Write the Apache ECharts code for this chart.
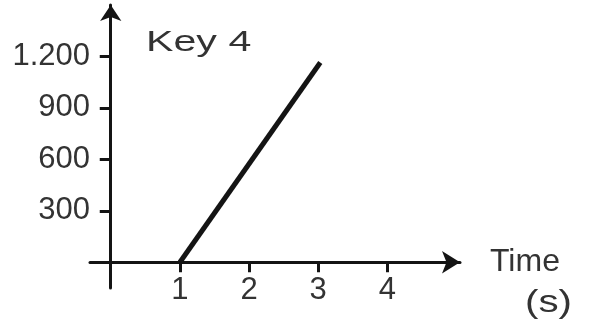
<!DOCTYPE html>
<html>
<head>
<meta charset="utf-8">
<script src="https://cdn.jsdelivr.net/npm/echarts@6/dist/echarts.min.js"></script>
<style>
html,body{margin:0;padding:0;background:#fff;}
#chart{width:589px;height:322px;}
</style>
</head>
<body>
<div id="chart"></div>
<script>
// Data
const lineX = [1, 3.03];
const lineY = [0, 1165];
const xTicks = [1, 2, 3, 4];
const yTicks = [300, 600, 900, 1200];
const xAxisName = 'Time';
const xAxisUnit = '(s)';
const keyLabel = 'Key 4';

const FONT = '"Liberation Sans", Arial, Helvetica, sans-serif';
const AXIS = '#141414';
const TEXT = '#333333';

const fmtY = v => {
  const s = String(Math.round(v));
  return s.replace(/\B(?=(\d{3})+(?!\d))/g, '.');
};

const xBase = {
  type: 'value', min: -0.3, max: 5.05,
  splitLine: {show: false}
};
const yBase = {
  type: 'value', min: -150, max: 1500,
  splitLine: {show: false}
};

const chart = echarts.init(document.getElementById('chart'), null, {renderer: 'canvas'});
chart.setOption({
  animation: false,
  backgroundColor: '#ffffff',
  grid: {left: 90, right: 129, top: 5, bottom: 34, containLabel: false, outerBoundsMode: 'none'},
  xAxis: [
    Object.assign({}, xBase, {
      axisLine: {show: true, onZero: true, onZeroAxisIndex: 0,
        symbol: ['none', 'arrow'], symbolSize: [17, 18],
        lineStyle: {color: AXIS, width: 3}},
      axisTick: {show: true, inside: false, length: 10, customValues: xTicks,
        lineStyle: {color: AXIS, width: 3}},
      axisLabel: {show: true, customValues: xTicks, margin: -13,
        fontSize: 31, fontFamily: FONT, color: TEXT},
      name: xAxisName, nameLocation: 'end', nameGap: 30,
      nameTextStyle: {fontSize: 32, fontFamily: FONT, color: TEXT, align: 'left', verticalAlign: 'middle'}
    }),
    Object.assign({}, xBase, {
      axisLine: {show: false, onZero: true, onZeroAxisIndex: 0},
      axisTick: {show: true, inside: true, length: 10, customValues: xTicks,
        lineStyle: {color: AXIS, width: 3}},
      axisLabel: {show: false}
    })
  ],
  yAxis: [
    Object.assign({}, yBase, {
      axisLine: {show: true, onZero: true, onZeroAxisIndex: 0,
        symbol: ['none', 'arrow'], symbolSize: [16, 16],
        lineStyle: {color: AXIS, width: 3}},
      axisTick: {show: true, inside: false, length: 11, customValues: yTicks,
        lineStyle: {color: AXIS, width: 3}},
      axisLabel: {show: true, customValues: yTicks, margin: 0,
        fontSize: 31, fontFamily: FONT, color: TEXT, formatter: fmtY}
    }),
    Object.assign({}, yBase, {
      axisLine: {show: false, onZero: true, onZeroAxisIndex: 0},
      axisTick: {show: true, inside: true, length: 11, customValues: yTicks,
        lineStyle: {color: AXIS, width: 3}},
      axisLabel: {show: false}
    })
  ],
  graphic: [
    {type: 'text', x: 146, y: 28, scaleX: 1.42, z: 10,
     style: {text: keyLabel, font: '29px ' + FONT, fill: TEXT, verticalAlign: 'top', align: 'left'}},
    {type: 'text', x: 525, y: 288, scaleX: 1.3, z: 10,
     style: {text: xAxisUnit, font: '31px ' + FONT, fill: TEXT, verticalAlign: 'top', align: 'left'}}
  ],
  series: [{
    type: 'line',
    xAxisIndex: 0, yAxisIndex: 0,
    data: lineX.map((x, i) => [x, lineY[i]]),
    symbol: 'none',
    lineStyle: {color: AXIS, width: 5},
    z: 5
  }]
});
</script>
</body>
</html>
